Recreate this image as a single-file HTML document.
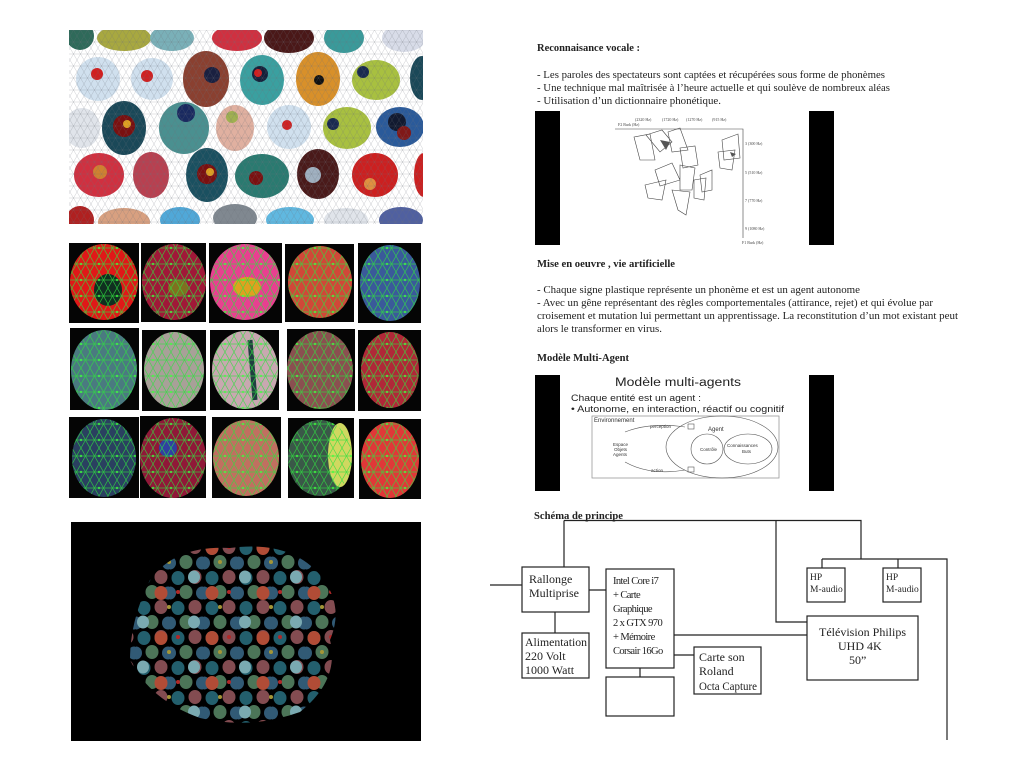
<!DOCTYPE html>
<html><head><meta charset="utf-8"><style>
html,body{margin:0;padding:0;background:#fff;}
svg{display:block;}
</style></head><body>
<svg width="1024" height="781" viewBox="0 0 1024 781" xmlns="http://www.w3.org/2000/svg">
<defs>
  <pattern id="mesh" width="14" height="12" patternUnits="userSpaceOnUse">
    <path d="M0 0L7 12L14 0M0 12L7 0L14 12M0 6H14" stroke="#6a7078" stroke-width="0.4" fill="none" opacity="0.45"/>
  </pattern>
  <pattern id="gmesh" width="18" height="16" patternUnits="userSpaceOnUse">
    <path d="M0 0L9 16L18 0M0 16L9 0L18 16M0 8H18" stroke="#30e040" stroke-width="0.7" fill="none"/>
    <circle cx="9" cy="8" r="1.2" fill="#40ff40"/>
  </pattern>
  <pattern id="dots" width="34" height="30" patternUnits="userSpaceOnUse">
    <ellipse cx="8" cy="8" rx="6.5" ry="7" fill="#2a7080"/>
    <ellipse cx="25" cy="7" rx="6.5" ry="7" fill="#9a5a60"/>
    <ellipse cx="16" cy="22" rx="6.5" ry="7" fill="#5a8a68"/>
    <ellipse cx="32" cy="23" rx="6" ry="6.5" fill="#3a6a8a"/>
    <ellipse cx="0" cy="23" rx="6" ry="6.5" fill="#3a6a8a"/>
  </pattern>
  <pattern id="dots2" width="51" height="45" patternUnits="userSpaceOnUse">
    <ellipse cx="8" cy="8" rx="6.5" ry="7" fill="#d05a40"/>
    <ellipse cx="41" cy="37" rx="6" ry="6.5" fill="#90c8d0"/>
    <circle cx="25" cy="7" r="2" fill="#d03030"/>
    <circle cx="16" cy="22" r="2" fill="#c0b040"/>
  </pattern>
  <clipPath id="blob"><path d="M150 580 Q175 545 230 548 Q290 540 320 575 Q345 605 330 640 Q340 680 300 712 Q250 730 200 718 Q150 700 130 660 Q130 620 150 580Z"/></clipPath>
</defs>

<!-- TOP IMAGE -->
<rect x="69" y="30" width="354" height="194" fill="#fff"/>
<svg x="69" y="30" width="354" height="194" overflow="hidden">
<g transform="translate(-69,-30)">
<g stroke="none">
<ellipse cx="80" cy="36" rx="14" ry="14" fill="#2f6a5a"/>
<ellipse cx="124" cy="38" rx="27" ry="13" fill="#a8a840"/>
<ellipse cx="172" cy="38" rx="22" ry="13" fill="#7ab0b8"/>
<ellipse cx="237" cy="38" rx="25" ry="13" fill="#d03040"/>
<ellipse cx="289" cy="38" rx="25" ry="15" fill="#4a1818"/>
<ellipse cx="344" cy="38" rx="20" ry="15" fill="#3a9a9a"/>
<ellipse cx="404" cy="38" rx="22" ry="14" fill="#d8dce8"/>
<ellipse cx="98" cy="79" rx="22" ry="22" fill="#d0e0ee"/>
<ellipse cx="152" cy="79" rx="21" ry="21" fill="#d0e0ee"/>
<ellipse cx="206" cy="79" rx="23" ry="28" fill="#8a4030"/>
<ellipse cx="262" cy="80" rx="22" ry="25" fill="#3aa0a0"/>
<ellipse cx="318" cy="79" rx="22" ry="27" fill="#d8902a"/>
<ellipse cx="376" cy="80" rx="24" ry="20" fill="#a8c040"/>
<ellipse cx="422" cy="78" rx="12" ry="22" fill="#1a4858"/>
<ellipse cx="82" cy="128" rx="18" ry="20" fill="#e0e4ea"/>
<ellipse cx="124" cy="128" rx="22" ry="27" fill="#1a4858"/>
<ellipse cx="184" cy="128" rx="25" ry="26" fill="#4a9090"/>
<ellipse cx="235" cy="128" rx="19" ry="23" fill="#e0b0a0"/>
<ellipse cx="289" cy="127" rx="22" ry="22" fill="#d0e0ee"/>
<ellipse cx="347" cy="128" rx="24" ry="21" fill="#a8c040"/>
<ellipse cx="400" cy="127" rx="24" ry="20" fill="#2a5a9a"/>
<ellipse cx="99" cy="175" rx="25" ry="22" fill="#d03040"/>
<ellipse cx="151" cy="175" rx="18" ry="23" fill="#b84050"/>
<ellipse cx="207" cy="175" rx="21" ry="27" fill="#1a5060"/>
<ellipse cx="262" cy="176" rx="27" ry="22" fill="#2a7a70"/>
<ellipse cx="318" cy="174" rx="21" ry="25" fill="#4a1a1a"/>
<ellipse cx="375" cy="175" rx="23" ry="22" fill="#cc2020"/>
<ellipse cx="424" cy="175" rx="10" ry="22" fill="#cc2020"/>
<ellipse cx="80" cy="220" rx="14" ry="14" fill="#b02020"/>
<ellipse cx="124" cy="222" rx="26" ry="14" fill="#d8a080"/>
<ellipse cx="180" cy="220" rx="20" ry="13" fill="#50a8d8"/>
<ellipse cx="235" cy="218" rx="22" ry="14" fill="#808890"/>
<ellipse cx="290" cy="220" rx="24" ry="13" fill="#60b8e0"/>
<ellipse cx="346" cy="220" rx="22" ry="12" fill="#e0e4ea"/>
<ellipse cx="401" cy="220" rx="22" ry="13" fill="#5060a0"/>
</g>
<g>
<circle cx="97" cy="74" r="6" fill="#d02020"/><circle cx="147" cy="76" r="6" fill="#d02020"/>
<circle cx="212" cy="75" r="8" fill="#1a2040"/><circle cx="260" cy="74" r="8" fill="#14203a"/><circle cx="258" cy="73" r="4" fill="#d02020"/>
<circle cx="319" cy="80" r="5" fill="#111"/><circle cx="363" cy="72" r="6" fill="#1a2a50"/>
<circle cx="124" cy="126" r="11" fill="#7a1010"/><circle cx="127" cy="124" r="4" fill="#e0a020"/>
<circle cx="186" cy="113" r="9" fill="#1a2a60"/><circle cx="232" cy="117" r="6" fill="#a0b050"/>
<circle cx="287" cy="125" r="5" fill="#d02020"/><circle cx="333" cy="124" r="6" fill="#1a2a50"/>
<circle cx="397" cy="122" r="9" fill="#121a30"/><circle cx="404" cy="133" r="7" fill="#801818"/>
<circle cx="100" cy="172" r="7" fill="#d08030"/><circle cx="207" cy="174" r="10" fill="#7a1010"/><circle cx="210" cy="172" r="4" fill="#e0a020"/>
<circle cx="256" cy="178" r="7" fill="#7a1010"/><circle cx="313" cy="175" r="8" fill="#a0b0c0"/><circle cx="370" cy="184" r="6" fill="#e09040"/>
</g>
<rect x="60" y="20" width="380" height="220" fill="url(#mesh)"/>
</g>
</svg>

<!-- MIDDLE GRID -->
<rect x="68" y="242" width="355" height="257" fill="#fff"/>
<g fill="#050505">
<rect x="69" y="243" width="70" height="80"/><rect x="141" y="243" width="65" height="79"/><rect x="209" y="243" width="73" height="80"/><rect x="285" y="244" width="69" height="78"/><rect x="358" y="243" width="63" height="80"/>
<rect x="70" y="328" width="69" height="82"/><rect x="142" y="330" width="64" height="81"/><rect x="210" y="330" width="69" height="80"/><rect x="287" y="329" width="68" height="82"/><rect x="358" y="330" width="63" height="81"/>
<rect x="69" y="417" width="70" height="81"/><rect x="140" y="416" width="66" height="82"/><rect x="212" y="417" width="69" height="81"/><rect x="288" y="418" width="66" height="80"/><rect x="359" y="419" width="62" height="80"/>
</g>
<g>
<ellipse cx="104" cy="282" rx="34" ry="38" fill="#e01818"/><ellipse cx="108" cy="290" rx="14" ry="16" fill="#103020"/>
<ellipse cx="174" cy="282" rx="32" ry="38" fill="#a01838"/><ellipse cx="178" cy="288" rx="10" ry="8" fill="#807020"/>
<ellipse cx="245" cy="282" rx="35" ry="38" fill="#e84090"/><ellipse cx="247" cy="287" rx="14" ry="10" fill="#e0a020"/>
<ellipse cx="320" cy="282" rx="32" ry="36" fill="#d04838"/>
<ellipse cx="390" cy="283" rx="30" ry="38" fill="#3a5a9a"/>
<ellipse cx="104" cy="370" rx="33" ry="40" fill="#4a7a80"/>
<ellipse cx="174" cy="370" rx="30" ry="38" fill="#a8a098"/>
<ellipse cx="245" cy="370" rx="33" ry="39" fill="#c8a8b0"/><path d="M250 340 L255 400" stroke="#204040" stroke-width="5"/>
<ellipse cx="320" cy="370" rx="33" ry="39" fill="#8a5050"/>
<ellipse cx="390" cy="370" rx="29" ry="38" fill="#b02838"/>
<ellipse cx="104" cy="458" rx="32" ry="39" fill="#2a4060"/>
<ellipse cx="173" cy="458" rx="33" ry="40" fill="#901838"/><ellipse cx="168" cy="448" rx="9" ry="9" fill="#3040a0"/>
<ellipse cx="246" cy="458" rx="33" ry="38" fill="#c07060"/>
<ellipse cx="320" cy="458" rx="32" ry="38" fill="#3a5848"/><ellipse cx="340" cy="455" rx="12" ry="32" fill="#d0d860"/>
<ellipse cx="390" cy="460" rx="29" ry="38" fill="#e03838"/>
</g>
<clipPath id="cells">
<ellipse cx="104" cy="282" rx="34" ry="38"/><ellipse cx="174" cy="282" rx="32" ry="38"/><ellipse cx="245" cy="282" rx="35" ry="38"/><ellipse cx="320" cy="282" rx="32" ry="36"/><ellipse cx="390" cy="283" rx="30" ry="38"/>
<ellipse cx="104" cy="370" rx="33" ry="40"/><ellipse cx="174" cy="370" rx="30" ry="38"/><ellipse cx="245" cy="370" rx="33" ry="39"/><ellipse cx="320" cy="370" rx="33" ry="39"/><ellipse cx="390" cy="370" rx="29" ry="38"/>
<ellipse cx="104" cy="458" rx="32" ry="39"/><ellipse cx="173" cy="458" rx="33" ry="40"/><ellipse cx="246" cy="458" rx="33" ry="38"/><ellipse cx="320" cy="458" rx="32" ry="38"/><ellipse cx="390" cy="460" rx="29" ry="38"/>
</clipPath>
<g opacity="0.8">
<rect x="69" y="243" width="352" height="256" fill="url(#gmesh)" clip-path="url(#cells)"/>
</g>

<!-- BOTTOM BLACK -->
<rect x="71" y="522" width="350" height="219" fill="#000"/>
<g clip-path="url(#blob)" opacity="0.85">
<rect x="120" y="540" width="230" height="190" fill="url(#dots)"/>
<rect x="120" y="540" width="230" height="190" fill="url(#dots2)"/>
</g>

<!-- RIGHT TEXT -->
<g font-family="Liberation Serif, serif" font-size="10.5" fill="#222">
<text x="537" y="51" font-weight="bold" textLength="103" lengthAdjust="spacingAndGlyphs">Reconnaisance vocale :</text>
<text x="537" y="78" textLength="348" lengthAdjust="spacingAndGlyphs">- Les paroles des spectateurs sont captées et récupérées sous forme de phonèmes</text>
<text x="537" y="91" textLength="353" lengthAdjust="spacingAndGlyphs">- Une technique mal maîtrisée à l’heure actuelle et qui soulève de nombreux aléas</text>
<text x="537" y="104" textLength="184" lengthAdjust="spacingAndGlyphs">- Utilisation d’un dictionnaire phonétique.</text>
<text x="537" y="267" font-weight="bold" textLength="138" lengthAdjust="spacingAndGlyphs">Mise en oeuvre , vie artificielle</text>
<text x="537" y="293" textLength="323" lengthAdjust="spacingAndGlyphs">- Chaque signe plastique représente un phonème et est un agent autonome</text>
<text x="537" y="306" textLength="396" lengthAdjust="spacingAndGlyphs">- Avec un gêne représentant des règles comportementales (attirance, rejet) et qui évolue par</text>
<text x="537" y="319" textLength="421" lengthAdjust="spacingAndGlyphs">croisement et mutation lui permettant un apprentissage. La reconstitution d’un mot existant peut</text>
<text x="537" y="332" textLength="125" lengthAdjust="spacingAndGlyphs">alors le transformer en virus.</text>
<text x="537" y="361" font-weight="bold" textLength="92" lengthAdjust="spacingAndGlyphs">Modèle Multi-Agent</text>
<text x="534" y="519" font-weight="bold" textLength="89" lengthAdjust="spacingAndGlyphs">Schéma de principe</text>
</g>

<!-- PHONETIC IMAGE -->
<rect x="535" y="111" width="25" height="134" fill="#000"/>
<rect x="809" y="111" width="25" height="134" fill="#000"/>
<g stroke="#444" stroke-width="0.6" fill="none">
<path d="M615 129H743V238"/>
<path d="M634 137L650 134L655 160L640 160Z M646 135L662 130L672 142L660 152Z M668 132L680 128L688 150L672 152Z M680 148L695 146L698 165L683 168Z M655 170L672 163L680 180L660 186Z M645 185L666 180L662 200L648 198Z M680 165L695 168L692 190L680 190Z M672 190L690 192L686 215L678 210Z M700 175L712 170L712 190L702 192Z M722 140L738 134L740 158L724 160Z M718 152L735 150L732 170L720 168Z M694 180L706 178L704 200L694 198Z"/>
</g>
<path d="M660 140l10 2l-4 8z M730 152l6 2l-4 3z" fill="#555"/>
<g font-family="Liberation Serif, serif" font-size="4" fill="#444">
<text x="618" y="126">F2 Bark (Hz)</text><text x="635" y="121">(2320 Hz)</text><text x="662" y="121">(1720 Hz)</text><text x="686" y="121">(1270 Hz)</text><text x="712" y="121">(915 Hz)</text>
<text x="745" y="145">3 (300 Hz)</text><text x="745" y="174">5 (510 Hz)</text><text x="745" y="202">7 (770 Hz)</text><text x="745" y="230">9 (1080 Hz)</text><text x="742" y="244">F1 Bark (Hz)</text>
</g>

<!-- MULTI-AGENT SLIDE -->
<rect x="535" y="375" width="25" height="116" fill="#000"/>
<rect x="809" y="375" width="25" height="116" fill="#000"/>
<g font-family="Liberation Sans, sans-serif" fill="#222">
<text x="615" y="386" font-size="11.5" textLength="126" lengthAdjust="spacingAndGlyphs">Modèle multi-agents</text>
<text x="571" y="401" font-size="9.5" textLength="130" lengthAdjust="spacingAndGlyphs">Chaque entité est un agent :</text>
<text x="571" y="412" font-size="9.5" textLength="213" lengthAdjust="spacingAndGlyphs">• Autonome, en interaction, réactif ou cognitif</text>
</g>
<rect x="592" y="416" width="187" height="62" fill="#fff" stroke="#999" stroke-width="0.8"/>
<g stroke="#555" stroke-width="0.6" fill="none">
<ellipse cx="722" cy="447" rx="56" ry="31"/>
<ellipse cx="707" cy="449" rx="16" ry="15"/>
<ellipse cx="748" cy="449" rx="24" ry="15"/>
<path d="M685 427Q650 422 625 432 M685 470Q650 476 625 462"/>
<rect x="688" y="424" width="6" height="5"/><rect x="688" y="467" width="6" height="5"/>
</g>
<g font-family="Liberation Sans, sans-serif" font-size="4.5" fill="#333">
<text x="594" y="422" font-size="6">Environnement</text>
<text x="650" y="428">perception</text><text x="708" y="431" font-size="6">Agent</text>
<text x="613" y="446">Espace</text><text x="614" y="451">Objets</text><text x="613" y="456">Agents</text>
<text x="700" y="451">Contrôle</text><text x="727" y="447">Connaissances</text><text x="742" y="453">Buts</text>
<text x="651" y="472">action</text>
</g>

<!-- SCHEMA -->
<g stroke="#222" stroke-width="1.2" fill="none">
<path d="M564 520.5H861V559 M564 520.5V567 M776 520.5V622H807 M822 559H947V740 M822 559V568 M898 559V568"/>
<path d="M490 585H522 M589 590H606 M555 612V633 M674 635H807 M674 655H694 M640 668V677"/>
<rect x="522" y="567" width="67" height="45" fill="#fff"/>
<rect x="522" y="633" width="67" height="45" fill="#fff"/>
<rect x="606" y="569" width="68" height="99" fill="#fff"/>
<rect x="606" y="677" width="68" height="39" fill="#fff"/>
<rect x="694" y="647" width="67" height="47" fill="#fff"/>
<rect x="807" y="568" width="38" height="34" fill="#fff"/>
<rect x="883" y="568" width="38" height="34" fill="#fff"/>
<rect x="807" y="616" width="111" height="64" fill="#fff"/>
</g>
<g font-family="Liberation Serif, serif" fill="#222">
<g font-size="12"><text x="529" y="583">Rallonge</text><text x="529" y="597">Multiprise</text>
<text x="525" y="646" textLength="62" lengthAdjust="spacingAndGlyphs">Alimentation</text><text x="525" y="660">220 Volt</text><text x="525" y="674">1000 Watt</text>
<text x="699" y="661">Carte son</text><text x="699" y="675">Roland</text><text x="699" y="690" textLength="58" lengthAdjust="spacingAndGlyphs">Octa Capture</text>
<text x="819" y="636">Télévision Philips</text><text x="838" y="650">UHD 4K</text><text x="849" y="664">50”</text></g>
<g font-size="10.5" letter-spacing="-0.6"><text x="613" y="584">Intel Core i7</text><text x="613" y="598">+ Carte</text><text x="613" y="612">Graphique</text><text x="613" y="626">2 x  GTX 970</text><text x="613" y="640">+ Mémoire</text><text x="613" y="654">Corsair 16Go</text></g>
<g font-size="9.5"><text x="810" y="580">HP</text><text x="810" y="592">M-audio</text><text x="886" y="580">HP</text><text x="886" y="592">M-audio</text></g>
</g>
</svg>
</body></html>
